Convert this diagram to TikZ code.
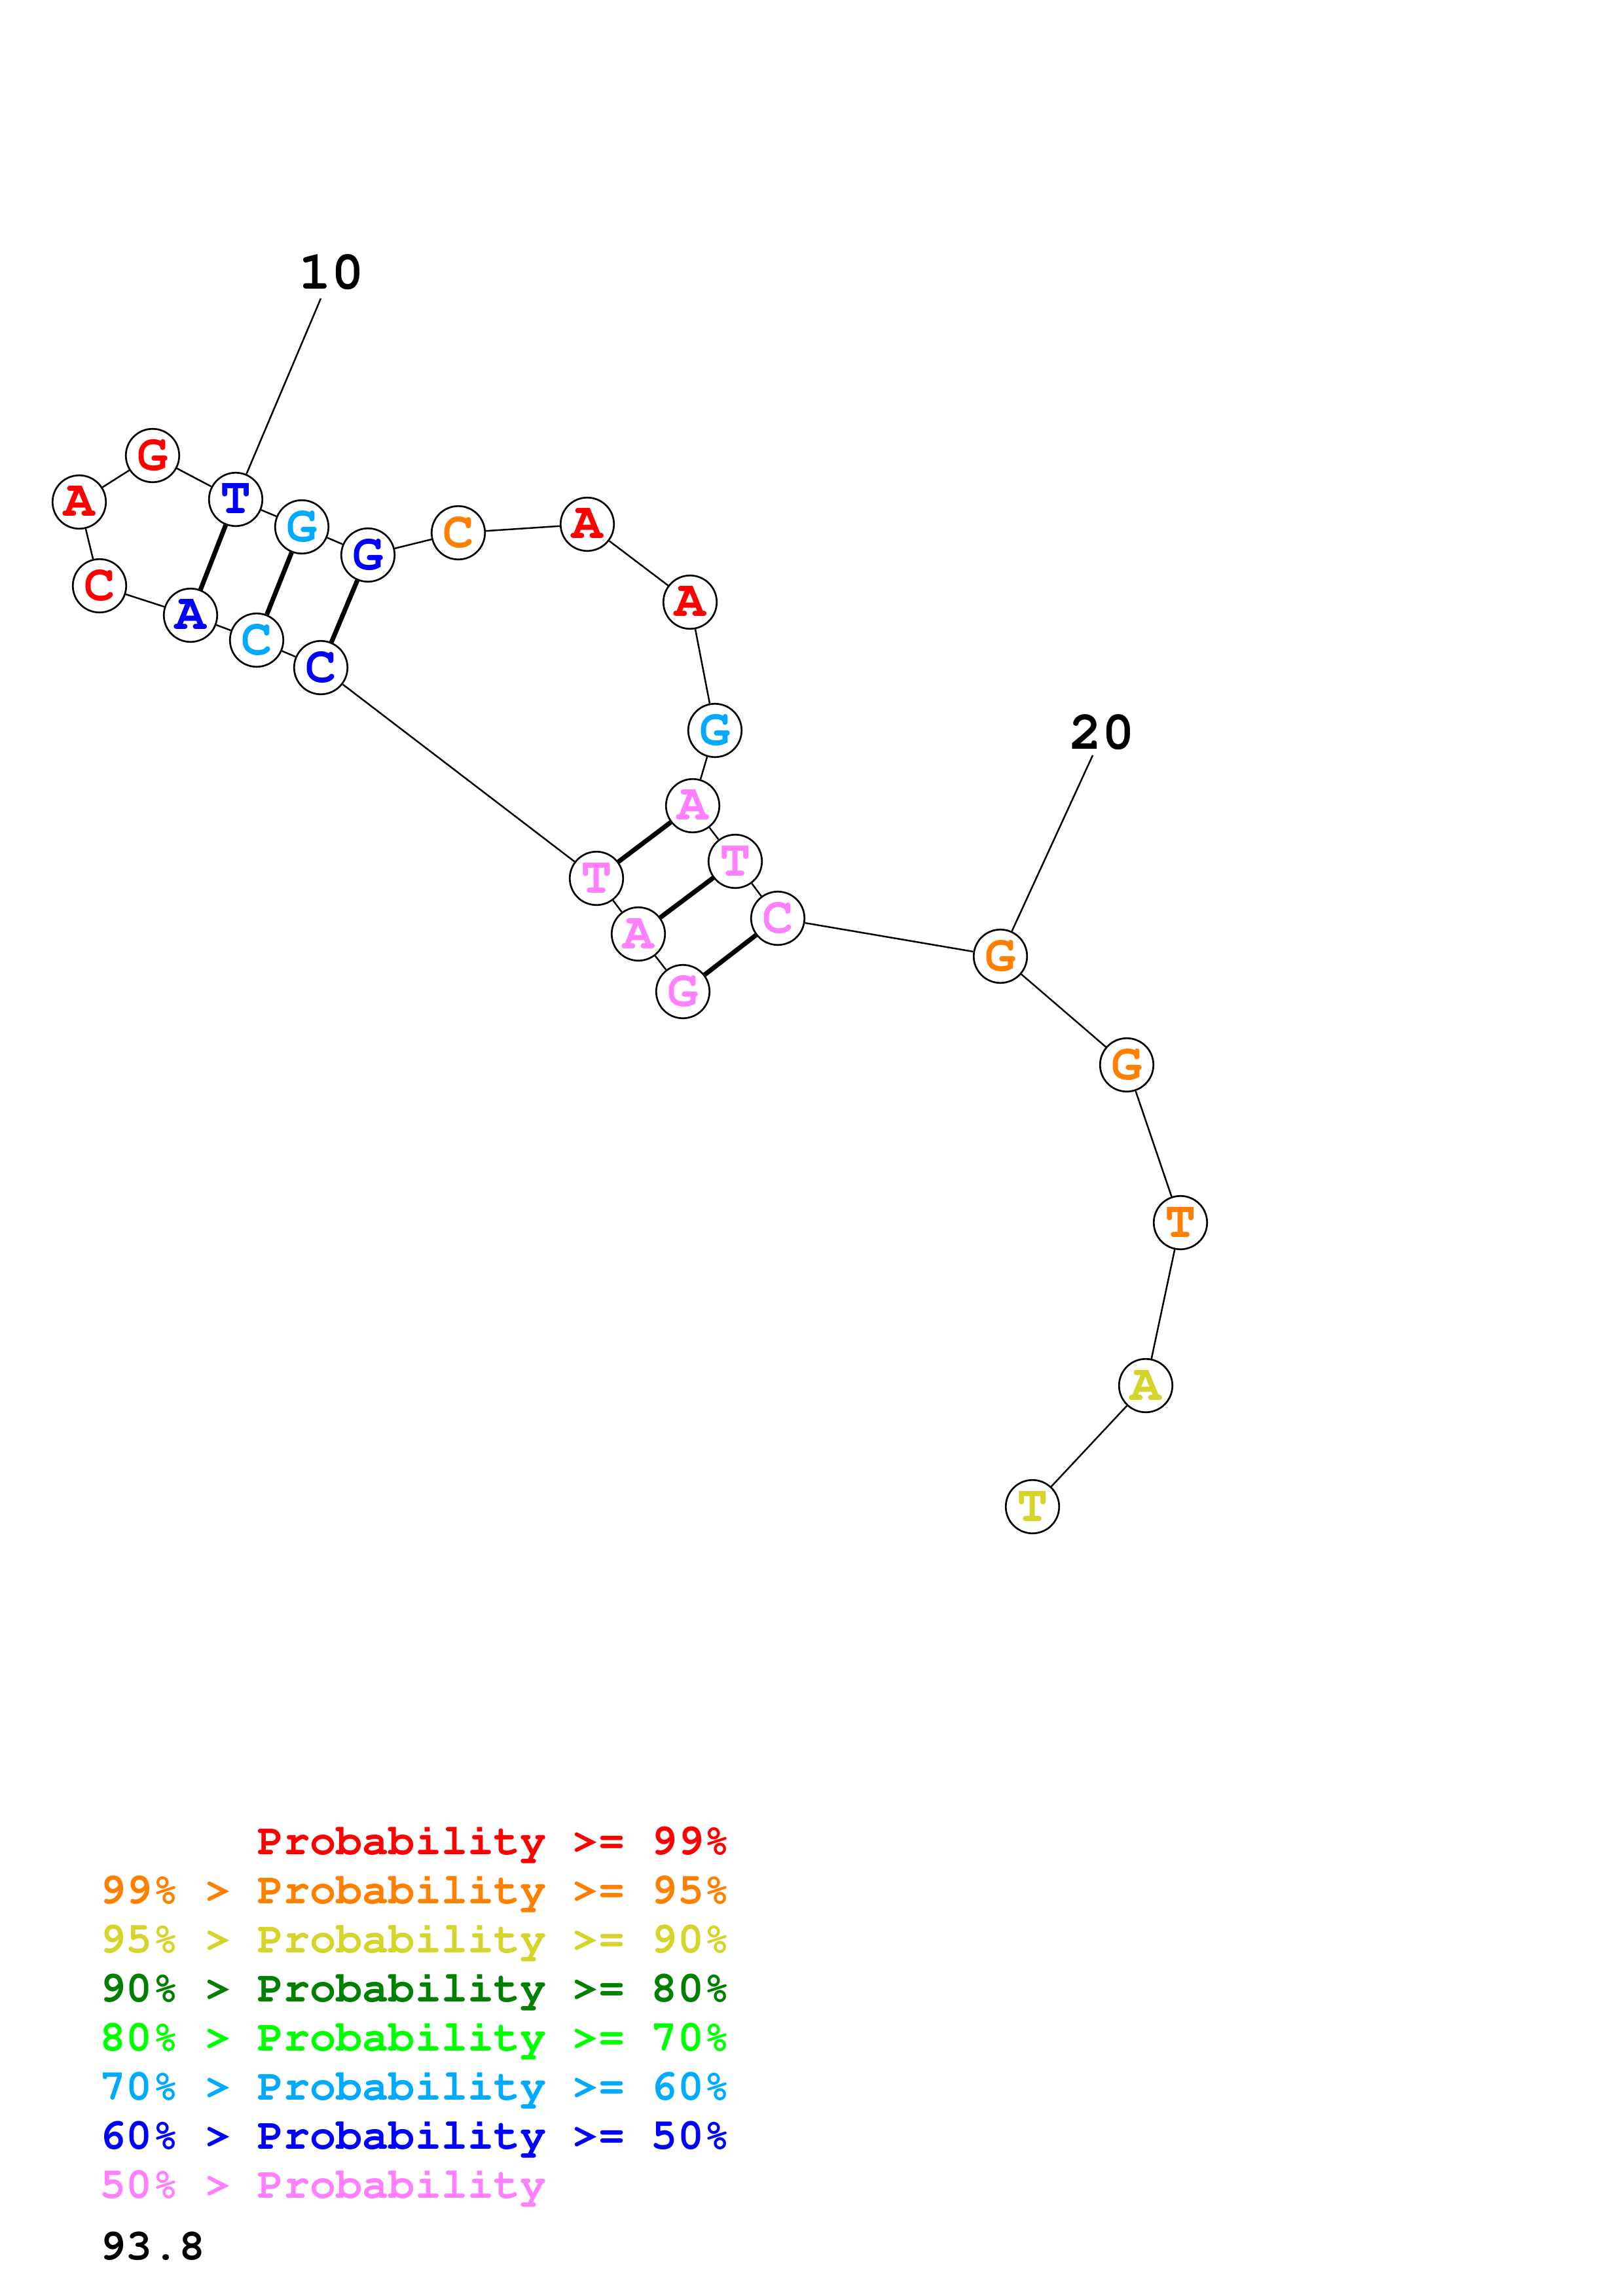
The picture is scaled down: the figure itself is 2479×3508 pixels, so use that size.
\documentclass[tikz,border=0pt]{standalone}
\usepackage[T1]{fontenc}
\usepackage{tikz}
\definecolor{pr99}{RGB}{255,0,0}
\definecolor{pr95}{RGB}{255,128,0}
\definecolor{pr90}{RGB}{212,212,42}
\definecolor{pr80}{RGB}{0,128,0}
\definecolor{pr70}{RGB}{0,255,0}
\definecolor{pr60}{RGB}{0,170,255}
\definecolor{pr50}{RGB}{0,0,255}
\definecolor{pr00}{RGB}{255,128,255}
\newcommand{\cour}[1]{\fontencoding{T1}\fontfamily{pcr}\fontseries{b}\fontsize{#1}{#1}\selectfont}
\tikzset{
nuc/.style={shape=circle,draw,line width=0.65pt,fill=white,inner sep=0pt,minimum size=6.9mm,font=\cour{19}},
numlab/.style={inner sep=0pt,font=\cour{20}},
legend/.style={inner sep=0pt,anchor=base west,font=\cour{16.1}},
bb/.style={line width=0.6pt},
pair/.style={line width=1.7pt}}

\begin{document}
\begin{tikzpicture}[x=0.0846667mm,y=-0.0846667mm]
\useasboundingbox (0,0) rectangle (2479,3508);
% bases
\node[nuc,text=pr00] (n1) at (1043,1515) {G};
\node[nuc,text=pr00] (n2) at (975,1427) {A};
\node[nuc,text=pr00] (n3) at (911,1342) {T};
\node[nuc,text=pr50] (n4) at (490,1020) {C};
\node[nuc,text=pr60] (n5) at (392,978) {C};
\node[nuc,text=pr50] (n6) at (291,940) {A};
\node[nuc,text=pr99] (n7) at (152,895) {C};
\node[nuc,text=pr99] (n8) at (121,767) {A};
\node[nuc,text=pr99] (n9) at (233,696) {G};
\node[nuc,text=pr50] (n10) at (360,763) {T};
\node[nuc,text=pr60] (n11) at (461,805) {G};
\node[nuc,text=pr50] (n12) at (562,848) {G};
\node[nuc,text=pr95] (n13) at (700,814) {C};
\node[nuc,text=pr99] (n14) at (897,801) {A};
\node[nuc,text=pr99] (n15) at (1054,920) {A};
\node[nuc,text=pr60] (n16) at (1092,1116) {G};
\node[nuc,text=pr00] (n17) at (1058,1231) {A};
\node[nuc,text=pr00] (n18) at (1123,1316) {T};
\node[nuc,text=pr00] (n19) at (1188,1403) {C};
\node[nuc,text=pr95] (n20) at (1528,1461) {G};
\node[nuc,text=pr95] (n21) at (1721,1627) {G};
\node[nuc,text=pr95] (n22) at (1803,1868) {T};
\node[nuc,text=pr90] (n23) at (1750,2117) {A};
\node[nuc,text=pr90] (n24) at (1577,2302) {T};
% backbone
\draw[bb] (n1) -- (n2) -- (n3) -- (n4) -- (n5) -- (n6) -- (n7) -- (n8) -- (n9) -- (n10) -- (n11) -- (n12)
  -- (n13) -- (n14) -- (n15) -- (n16) -- (n17) -- (n18) -- (n19) -- (n20) -- (n21) -- (n22) -- (n23) -- (n24);
% pairs
\foreach \a/\b in {n1/n19,n2/n18,n3/n17,n4/n12,n5/n11,n6/n10}
  \draw[pair] (\a) -- (\b);
% numbering
\node[numlab] (l10) at (506,416) {10};
\coordinate (c10) at (490,456);
\draw[bb] (n10) -- (c10);
\node[numlab] (l20) at (1683,1119) {20};
\coordinate (c20) at (1669,1154);
\draw[bb] (n20) -- (c20);
% legend
\node[legend,text=pr99] (k99) at (152,2833) {\phantom{99\% > }Probability >= 99\%};
\node[legend,text=pr95] (k95) at (152,2908) {99\% > Probability >= 95\%};
\node[legend,text=pr90] (k90) at (152,2983) {95\% > Probability >= 90\%};
\node[legend,text=pr80] (k80) at (152,3058) {90\% > Probability >= 80\%};
\node[legend,text=pr70] (k70) at (152,3133) {80\% > Probability >= 70\%};
\node[legend,text=pr60] (k60) at (152,3208) {70\% > Probability >= 60\%};
\node[legend,text=pr50] (k50) at (152,3283) {60\% > Probability >= 50\%};
\node[legend,text=pr00] (k00) at (152,3358) {50\% > Probability};
\node[legend] (score) at (152,3452) {93.8};
\end{tikzpicture}
\end{document}
